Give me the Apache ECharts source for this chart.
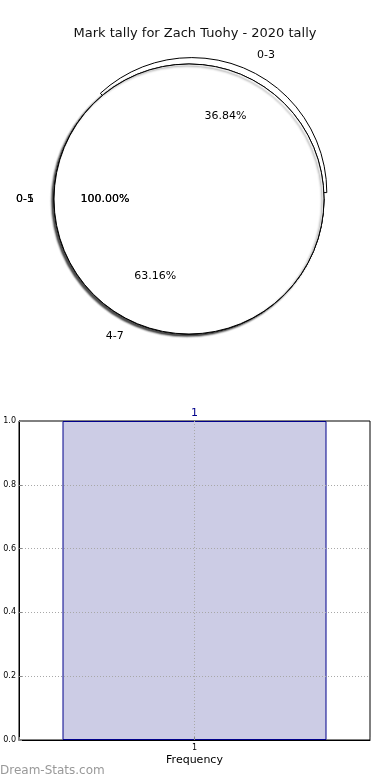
<!DOCTYPE html>
<html>
<head>
<meta charset="utf-8">
<script src="https://cdn.jsdelivr.net/npm/echarts@6/dist/echarts.min.js"></script>
<style>
html,body{margin:0;padding:0;background:#fff;}
#c{width:390px;height:780px;}
</style>
</head>
<body>
<div id="c"></div>
<script>
// ---- data ----
var titleText = 'Mark tally for Zach Tuohy - 2020 tally';
var splitNames = ['0-3', '4-7'];
var splitValues = [7, 12];
var fullNamesA = ['0-5'];
var fullValuesA = [1];
var fullNamesB = ['0-1'];
var fullValuesB = [1];
var barCategories = [1];
var barValues = [1];
var yTicks = [0, 0.2, 0.4, 0.6, 0.8, 1.0];

// ---- layout ----
var FONT = 'DejaVu Sans';
var R = 135;
var CENTER = [189, 199];
var shadow = {shadowBlur: 2, shadowOffsetX: -2, shadowOffsetY: 2, shadowColor: 'rgba(0,0,0,0.45)'};

function pieSeries(names, values, colors, selected, offset, z, withShadow) {
  return {
    type: 'pie', center: CENTER, radius: [0, R], startAngle: 0, clockwise: false,
    selectedMode: 'multiple', selectedOffset: offset, avoidLabelOverlap: false,
    labelLayout: {hideOverlap: false},
    animation: false, silent: true, z: z,
    label: {show: true, position: 'outside', formatter: '{b}', fontFamily: FONT, fontSize: 11, color: '#000'},
    labelLine: {show: false, length: 15, length2: 0},
    data: names.map(function (n, i) {
      return {name: n, value: values[i], selected: !!selected[i],
        itemStyle: Object.assign({color: colors[i], borderColor: '#000', borderWidth: 1}, withShadow ? shadow : {})};
    })
  };
}
function pctSeries(names, values, selected, offset, z) {
  return {
    type: 'pie', center: CENTER, radius: [0, R * 1.2], startAngle: 0, clockwise: false,
    selectedMode: 'multiple', selectedOffset: offset, avoidLabelOverlap: false,
    labelLayout: {hideOverlap: false},
    animation: false, silent: true, z: z,
    label: {show: true, position: 'inside', formatter: function (p) { return p.percent.toFixed(2) + '%'; },
      fontFamily: FONT, fontSize: 11, color: '#000'},
    labelLine: {show: false},
    itemStyle: {color: 'rgba(0,0,0,0)', borderWidth: 0},
    data: names.map(function (n, i) { return {name: n, value: values[i], selected: !!selected[i]}; })
  };
}

var axisCommon = {
  z: 5,
  axisLine: {show: true, lineStyle: {color: '#000'}},
  axisTick: {show: true, inside: true, length: 3, lineStyle: {color: '#888'}},
  splitLine: {show: true, showMinLine: false, showMaxLine: false, lineStyle: {color: '#a8a8a8', type: [1, 2]}}
};

var chart = echarts.init(document.getElementById('c'), null, {renderer: 'canvas'});
var option = {
  animation: false,
  backgroundColor: '#fff',
  title: {text: titleText, left: 'center', top: 22,
    textStyle: {fontFamily: FONT, fontSize: 13, fontWeight: 'normal', color: '#111'}},
  graphic: [{type: 'text', left: 0, top: 765,
    style: {text: 'Dream-Stats.com', font: '12px ' + FONT, fill: '#999'}}],
  grid: {left: 19, top: 421, width: 351, height: 319, show: true, borderColor: '#000', borderWidth: 1, backgroundColor: 'transparent'},
  xAxis: Object.assign({type: 'value', min: 0, max: 2, interval: 1,
    name: 'Frequency', nameLocation: 'middle', nameGap: 15,
    nameTextStyle: {fontFamily: FONT, fontSize: 11, color: '#000'},
    axisLabel: {fontFamily: FONT, fontSize: 8, color: '#000', margin: 4,
      formatter: function (v) { return barCategories.indexOf(v) >= 0 ? String(v) : ''; }}}, axisCommon),
  yAxis: Object.assign({type: 'value', min: yTicks[0], max: yTicks[yTicks.length - 1], interval: 0.2,
    axisLabel: {fontFamily: FONT, fontSize: 8, color: '#000', margin: 3,
      formatter: function (v) { return v.toFixed(1); }}}, axisCommon),
  series: [
    pieSeries(splitNames, splitValues, ['#ffffff', '#e6ecf8'], [true, false], 7, 2, false),
    pieSeries(fullNamesA, fullValuesA, ['#ffffff'], [false], 0, 3, true),
    pieSeries(fullNamesB, fullValuesB, ['#ffffff'], [false], 0, 4, true),
    pctSeries(splitNames, splitValues, [true, false], 7, 5),
    pctSeries(fullNamesA, fullValuesA, [false], 0, 5),
    pctSeries(fullNamesB, fullValuesB, [false], 0, 5),
    {type: 'bar', barWidth: 264, z: 1,
      data: barCategories.map(function (c, i) { return [c, barValues[i]]; }),
      itemStyle: {color: '#ccccE5', borderColor: '#00008b', borderWidth: 1},
      label: {show: true, position: 'top', distance: 2, fontFamily: FONT, fontSize: 11, color: '#00008b',
        formatter: function (p) { return String(barCategories[p.dataIndex]); }}}
  ]
};
chart.setOption(option);
</script>
</body>
</html>
